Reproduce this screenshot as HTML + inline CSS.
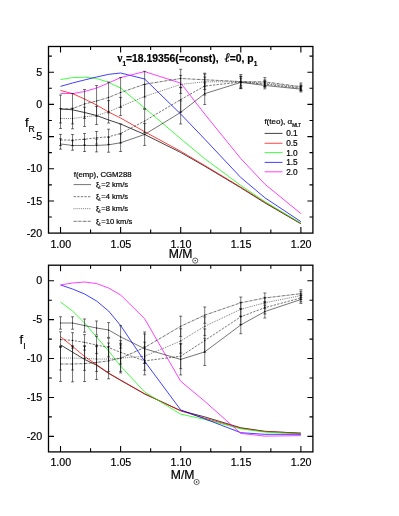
<!DOCTYPE html>
<html><head><meta charset="utf-8"><title>f_R, f_I vs M</title>
<style>
html,body{margin:0;padding:0;background:#fff;}
body{width:399px;height:516px;position:relative;overflow:hidden;font-family:"Liberation Sans",sans-serif;color:#000;}
</style></head><body>
<svg width="399" height="516" viewBox="0 0 399 516" style="position:absolute;left:0;top:0;will-change:transform">
<clipPath id="c1"><rect x="48.5" y="46.5" width="264.4" height="186.6"/></clipPath>
<clipPath id="c2"><rect x="48.5" y="265.2" width="264.4" height="186.7"/></clipPath>
<g clip-path="url(#c1)">
<polyline points="60.52,108.98 72.54,109.82 84.55,112.52 96.57,115.48 108.59,119.98 120.61,123.97 144.65,134.46 180.7,152.48 204.74,166.18 240.79,187.74 264.83,202.86 300.88,223.77" fill="none" stroke="#000" stroke-width="0.75"/>
<polyline points="60.52,90.51 72.54,93.6 84.55,99.01 96.57,104.99 108.59,112 120.61,117.99 144.65,131.76 180.7,151.25 204.74,165.47 240.79,187.16 264.83,202.21 300.88,223.45" fill="none" stroke="#ff0000" stroke-width="0.75"/>
<polyline points="60.52,79.57 72.54,77.58 84.55,77.19 96.57,78.42 108.59,82.4 120.61,88 144.65,108.01 180.7,138.71 204.74,158.72 240.79,185.48 264.83,201.57 300.88,223.13" fill="none" stroke="#00ff00" stroke-width="0.75"/>
<polyline points="60.52,86.39 72.54,82.98 84.55,79.96 96.57,77 108.59,74.36 120.61,73.01 144.65,78.99 180.7,114.06 204.74,139.16 240.79,177.51 264.83,197.71 300.88,221.65" fill="none" stroke="#0000ff" stroke-width="0.75"/>
<polyline points="60.52,93.47 72.54,93.6 84.55,91.54 96.57,88 108.59,82.98 120.61,77.58 144.65,71.59 180.7,83.11 204.74,114.06 240.79,158.59 264.83,184.13 300.88,213.6" fill="none" stroke="#ff00ff" stroke-width="0.75"/>
<polyline points="60.52,143.98 72.54,145.46 84.55,145.46 96.57,145.46 108.59,144.82 120.61,142.76 144.65,134.46 180.7,112.39 204.74,93.66 240.79,82.4 264.83,85.43 300.88,89.16" fill="none" stroke="#000" stroke-width="0.55"/>
<polyline points="60.52,139.99 72.54,140.12 84.55,139.22 96.57,137.81 108.59,136.78 120.61,133.49 144.65,121.01 180.7,99.58 204.74,86.01 240.79,82.08 264.83,84.14 300.88,88.32" fill="none" stroke="#000" stroke-width="0.55" stroke-dasharray="2.3 1.3"/>
<polyline points="60.52,118.5 72.54,118.5 84.55,116.83 96.57,115.48 108.59,111.81 120.61,106.47 144.65,96.5 180.7,84.4 204.74,81.76 240.79,81.89 264.83,83.18 300.88,87.49" fill="none" stroke="#000" stroke-width="0.55" stroke-dasharray="0.9 1.0"/>
<polyline points="60.52,108.98 72.54,108.66 84.55,103.96 96.57,101 108.59,97.46 120.61,92.51 144.65,84.21 180.7,78.48 204.74,79.77 240.79,81.57 264.83,81.89 300.88,86.65" fill="none" stroke="#000" stroke-width="0.55" stroke-dasharray="3 0.6 0.5 0.6"/>
<path d="M60.52 138.77V149.19M59.02 138.77H62.02M59.02 149.19H62.02M72.54 140.7V150.22M71.04 140.7H74.04M71.04 150.22H74.04M84.55 139.41V151.51M83.05 139.41H86.05M83.05 151.51H86.05M96.57 139.03V151.9M95.07 139.03H98.07M95.07 151.9H98.07M108.59 137.42V152.22M107.09 137.42H110.09M107.09 152.22H110.09M120.61 134.01V151.51M119.11 134.01H122.11M119.11 151.51H122.11M144.65 123.46V145.46M143.15 123.46H146.15M143.15 145.46H146.15M180.7 100.81V123.97M179.2 100.81H182.2M179.2 123.97H182.2M204.74 82.85V104.47M203.24 82.85H206.24M203.24 104.47H206.24M240.79 76.29V88.52M239.29 76.29H242.29M239.29 88.52H242.29M264.83 81.95V88.9M263.33 81.95H266.33M263.33 88.9H266.33M300.88 86.33V91.99M299.38 86.33H302.38M299.38 91.99H302.38M60.52 134.4V145.59M59.02 134.4H62.02M59.02 145.59H62.02M72.54 134.52V145.72M71.04 134.52H74.04M71.04 145.72H74.04M84.55 133.49V144.95M83.05 133.49H86.05M83.05 144.95H86.05M96.57 131.5V144.11M95.07 131.5H98.07M95.07 144.11H98.07M108.59 129.18V144.37M107.09 129.18H110.09M107.09 144.37H110.09M120.61 123.97V143.02M119.11 123.97H122.11M119.11 143.02H122.11M144.65 109.43V132.59M143.15 109.43H146.15M143.15 132.59H146.15M180.7 87.36V111.81M179.2 87.36H182.2M179.2 111.81H182.2M204.74 77V95.02M203.24 77H206.24M203.24 95.02H206.24M240.79 78.22V85.94M239.29 78.22H242.29M239.29 85.94H242.29M264.83 80.92V87.36M263.33 80.92H266.33M263.33 87.36H266.33M300.88 85.75V90.9M299.38 85.75H302.38M299.38 90.9H302.38M60.52 108.53V128.48M59.02 108.53H62.02M59.02 128.48H62.02M72.54 108.21V128.8M71.04 108.21H74.04M71.04 128.8H74.04M84.55 107.18V126.48M83.05 107.18H86.05M83.05 126.48H86.05M96.57 106.47V124.49M95.07 106.47H98.07M95.07 124.49H98.07M108.59 100.61V123.01M107.09 100.61H110.09M107.09 123.01H110.09M120.61 97.46V115.48M119.11 97.46H122.11M119.11 115.48H122.11M144.65 84.53V108.46M143.15 84.53H146.15M143.15 108.46H146.15M180.7 75.39V93.41M179.2 75.39H182.2M179.2 93.41H182.2M204.74 74.04V89.48M203.24 74.04H206.24M203.24 89.48H206.24M240.79 76.42V87.36M239.29 76.42H242.29M239.29 87.36H242.29M264.83 79.96V86.39M263.33 79.96H266.33M263.33 86.39H266.33M300.88 84.91V90.06M299.38 84.91H302.38M299.38 90.06H302.38M60.52 95.02V122.94M59.02 95.02H62.02M59.02 122.94H62.02M72.54 93.47V123.84M71.04 93.47H74.04M71.04 123.84H74.04M84.55 89.48V118.44M83.05 89.48H86.05M83.05 118.44H86.05M96.57 85.56V116.44M95.07 85.56H98.07M95.07 116.44H98.07M108.59 82.02V112.9M107.09 82.02H110.09M107.09 112.9H110.09M120.61 77.58V107.43M119.11 77.58H122.11M119.11 107.43H122.11M144.65 71.34V97.08M143.15 71.34H146.15M143.15 97.08H146.15M180.7 69.28V87.68M179.2 69.28H182.2M179.2 87.68H182.2M204.74 73.2V86.33M203.24 73.2H206.24M203.24 86.33H206.24M240.79 74.49V88.65M239.29 74.49H242.29M239.29 88.65H242.29M264.83 77.58V86.2M263.33 77.58H266.33M263.33 86.2H266.33M300.88 82.98V90.32M299.38 82.98H302.38M299.38 90.32H302.38" fill="none" stroke="#000" stroke-width="0.55"/>
<g fill="#000"><circle cx="60.52" cy="143.98" r="0.6"/><circle cx="72.54" cy="145.46" r="0.6"/><circle cx="84.55" cy="145.46" r="0.6"/><circle cx="96.57" cy="145.46" r="0.6"/><circle cx="108.59" cy="144.82" r="0.6"/><circle cx="120.61" cy="142.76" r="0.6"/><circle cx="144.65" cy="134.46" r="0.6"/><circle cx="180.7" cy="112.39" r="0.6"/><circle cx="204.74" cy="93.66" r="0.6"/><circle cx="240.79" cy="82.4" r="0.6"/><circle cx="264.83" cy="85.43" r="0.6"/><circle cx="300.88" cy="89.16" r="0.6"/><circle cx="60.52" cy="139.99" r="0.6"/><circle cx="72.54" cy="140.12" r="0.6"/><circle cx="84.55" cy="139.22" r="0.6"/><circle cx="96.57" cy="137.81" r="0.6"/><circle cx="108.59" cy="136.78" r="0.6"/><circle cx="120.61" cy="133.49" r="0.6"/><circle cx="144.65" cy="121.01" r="0.6"/><circle cx="180.7" cy="99.58" r="0.6"/><circle cx="204.74" cy="86.01" r="0.6"/><circle cx="240.79" cy="82.08" r="0.6"/><circle cx="264.83" cy="84.14" r="0.6"/><circle cx="300.88" cy="88.32" r="0.6"/><circle cx="60.52" cy="118.5" r="0.6"/><circle cx="72.54" cy="118.5" r="0.6"/><circle cx="84.55" cy="116.83" r="0.6"/><circle cx="96.57" cy="115.48" r="0.6"/><circle cx="108.59" cy="111.81" r="0.6"/><circle cx="120.61" cy="106.47" r="0.6"/><circle cx="144.65" cy="96.5" r="0.6"/><circle cx="180.7" cy="84.4" r="0.6"/><circle cx="204.74" cy="81.76" r="0.6"/><circle cx="240.79" cy="81.89" r="0.6"/><circle cx="264.83" cy="83.18" r="0.6"/><circle cx="300.88" cy="87.49" r="0.6"/><circle cx="60.52" cy="108.98" r="0.6"/><circle cx="72.54" cy="108.66" r="0.6"/><circle cx="84.55" cy="103.96" r="0.6"/><circle cx="96.57" cy="101" r="0.6"/><circle cx="108.59" cy="97.46" r="0.6"/><circle cx="120.61" cy="92.51" r="0.6"/><circle cx="144.65" cy="84.21" r="0.6"/><circle cx="180.7" cy="78.48" r="0.6"/><circle cx="204.74" cy="79.77" r="0.6"/><circle cx="240.79" cy="81.57" r="0.6"/><circle cx="264.83" cy="81.89" r="0.6"/><circle cx="300.88" cy="86.65" r="0.6"/></g>
</g>
<rect x="48.5" y="46.5" width="264.4" height="186.6" fill="none" stroke="#000" stroke-width="1.3"/>
<path d="M60.52 233.1v-6M60.52 46.5v6M90.56 233.1v-3.6M90.56 46.5v3.6M120.61 233.1v-6M120.61 46.5v6M150.65 233.1v-3.6M150.65 46.5v3.6M180.7 233.1v-6M180.7 46.5v6M210.75 233.1v-3.6M210.75 46.5v3.6M240.79 233.1v-6M240.79 46.5v6M270.84 233.1v-3.6M270.84 46.5v3.6M300.88 233.1v-6M300.88 46.5v6M48.5 72.24h5.5M312.9 72.24h-5.5M48.5 104.41h5.5M312.9 104.41h-5.5M48.5 136.58h5.5M312.9 136.58h-5.5M48.5 168.76h5.5M312.9 168.76h-5.5M48.5 200.93h5.5M312.9 200.93h-5.5M48.5 56.15h3.4M312.9 56.15h-3.4M48.5 88.32h3.4M312.9 88.32h-3.4M48.5 120.5h3.4M312.9 120.5h-3.4M48.5 152.67h3.4M312.9 152.67h-3.4M48.5 184.84h3.4M312.9 184.84h-3.4M48.5 217.01h3.4M312.9 217.01h-3.4" fill="none" stroke="#000" stroke-width="1.1"/>
<g clip-path="url(#c2)">
<polyline points="60.52,344.86 72.54,352.17 84.55,359.41 96.57,365.16 108.59,373.33 120.61,380.33 144.65,393.95 180.7,410.67 204.74,416.89 240.79,427.78 264.83,431.29 300.88,433.23" fill="none" stroke="#000" stroke-width="0.75"/>
<polyline points="60.52,336.61 72.54,346.34 84.55,356.53 96.57,364.54 108.59,373.02 120.61,380.02 144.65,393.79 180.7,410.83 204.74,418.22 240.79,428.17 264.83,431.6 300.88,433.15" fill="none" stroke="#ff0000" stroke-width="0.75"/>
<polyline points="60.52,302 72.54,311.02 84.55,323 96.57,337 108.59,351 120.61,366.1 144.65,392 180.7,414.17 204.74,419.38 240.79,428.87 264.83,432.06 300.88,433.93" fill="none" stroke="#00ff00" stroke-width="0.75"/>
<polyline points="60.52,284.96 72.54,289 84.55,293.98 96.57,300.98 108.59,311.02 120.61,325.49 144.65,361.27 180.7,409.89 204.74,418.84 240.79,432.69 264.83,434.32 300.88,434.32" fill="none" stroke="#0000ff" stroke-width="0.75"/>
<polyline points="60.52,284.96 72.54,283.01 84.55,282 96.57,283.56 108.59,287.99 120.61,294.99 144.65,318.72 180.7,381.27 204.74,401.26 240.79,433.39 264.83,436.11 300.88,435.64" fill="none" stroke="#ff00ff" stroke-width="0.75"/>
<polyline points="60.52,323 72.54,323 84.55,325.57 96.57,327.98 108.59,330 120.61,336.85 144.65,348.75 180.7,359.41 204.74,351.86 240.79,324.94 264.83,311.56 300.88,299.51" fill="none" stroke="#000" stroke-width="0.55"/>
<polyline points="60.52,339.57 72.54,340.42 84.55,342.37 96.57,345.01 108.59,347.58 120.61,352.33 144.65,360.88 180.7,356.22 204.74,340.58 240.79,316.78 264.83,307.67 300.88,297.95" fill="none" stroke="#000" stroke-width="0.55" stroke-dasharray="2.3 1.3"/>
<polyline points="60.52,358.01 72.54,358.01 84.55,358.39 96.57,359.02 108.59,359.02 120.61,358.16 144.65,356.22 180.7,340.97 204.74,326.27 240.79,309.31 264.83,302.77 300.88,295.62" fill="none" stroke="#000" stroke-width="0.55" stroke-dasharray="0.9 1.0"/>
<polyline points="60.52,364 72.54,364 84.55,363.61 96.57,362.44 108.59,360.88 120.61,358.16 144.65,347.5 180.7,326.27 204.74,315.14 240.79,302.77 264.83,297.95 300.88,293.67" fill="none" stroke="#000" stroke-width="0.55" stroke-dasharray="3 0.6 0.5 0.6"/>
<path d="M60.52 316.78V329.22M59.02 316.78H62.02M59.02 329.22H62.02M72.54 316.78V329.22M71.04 316.78H74.04M71.04 329.22H74.04M84.55 318.95V332.18M83.05 318.95H86.05M83.05 332.18H86.05M96.57 320.98V334.98M95.07 320.98H98.07M95.07 334.98H98.07M108.59 322.61V337.39M107.09 322.61H110.09M107.09 337.39H110.09M120.61 325.64V348.05M119.11 325.64H122.11M119.11 348.05H122.11M144.65 333.97V363.53M143.15 333.97H146.15M143.15 363.53H146.15M180.7 343.85V374.96M179.2 343.85H182.2M179.2 374.96H182.2M204.74 338.25V365.47M203.24 338.25H206.24M203.24 365.47H206.24M240.79 316.15V333.73M239.29 316.15H242.29M239.29 333.73H242.29M264.83 305.11V318.02M263.33 305.11H266.33M263.33 318.02H266.33M300.88 295.62V303.4M299.38 295.62H302.38M299.38 303.4H302.38M60.52 331.79V347.35M59.02 331.79H62.02M59.02 347.35H62.02M72.54 332.65V348.2M71.04 332.65H74.04M71.04 348.2H74.04M84.55 334.59V350.15M83.05 334.59H86.05M83.05 350.15H86.05M96.57 336.46V353.57M95.07 336.46H98.07M95.07 353.57H98.07M108.59 338.25V356.92M107.09 338.25H110.09M107.09 356.92H110.09M120.61 340.66V364M119.11 340.66H122.11M119.11 364H122.11M144.65 346.88V374.89M143.15 346.88H146.15M143.15 374.89H146.15M180.7 343.77V368.66M179.2 343.77H182.2M179.2 368.66H182.2M204.74 328.91V352.25M203.24 328.91H206.24M203.24 352.25H206.24M240.79 309V324.56M239.29 309H242.29M239.29 324.56H242.29M264.83 301.45V313.9M263.33 301.45H266.33M263.33 313.9H266.33M300.88 294.06V301.84M299.38 294.06H302.38M299.38 301.84H302.38M60.52 346.03V369.99M59.02 346.03H62.02M59.02 369.99H62.02M72.54 346.03V369.99M71.04 346.03H74.04M71.04 369.99H74.04M84.55 346.41V370.37M83.05 346.41H86.05M83.05 370.37H86.05M96.57 346.57V371.46M95.07 346.57H98.07M95.07 371.46H98.07M108.59 346.57V371.46M107.09 346.57H110.09M107.09 371.46H110.09M120.61 344.94V371.39M119.11 344.94H122.11M119.11 371.39H122.11M144.65 342.21V370.22M143.15 342.21H146.15M143.15 370.22H146.15M180.7 328.76V353.18M179.2 328.76H182.2M179.2 353.18H182.2M204.74 316.93V335.6M203.24 316.93H206.24M203.24 335.6H206.24M240.79 302.31V316.31M239.29 302.31H242.29M239.29 316.31H242.29M264.83 297.33V308.22M263.33 297.33H266.33M263.33 308.22H266.33M300.88 291.73V299.51M299.38 291.73H302.38M299.38 299.51H302.38M60.52 346.57V381.42M59.02 346.57H62.02M59.02 381.42H62.02M72.54 346.1V381.89M71.04 346.1H74.04M71.04 381.89H74.04M84.55 345.71V381.5M83.05 345.71H86.05M83.05 381.5H86.05M96.57 345.33V379.55M95.07 345.33H98.07M95.07 379.55H98.07M108.59 342.99V378.78M107.09 342.99H110.09M107.09 378.78H110.09M120.61 343.38V372.94M119.11 343.38H122.11M119.11 372.94H122.11M144.65 331.95V363.06M143.15 331.95H146.15M143.15 363.06H146.15M180.7 316.15V336.38M179.2 316.15H182.2M179.2 336.38H182.2M204.74 306.97V323.31M203.24 306.97H206.24M203.24 323.31H206.24M240.79 297.02V308.53M239.29 297.02H242.29M239.29 308.53H242.29M264.83 292.97V302.93M263.33 292.97H266.33M263.33 302.93H266.33M300.88 289.78V297.56M299.38 289.78H302.38M299.38 297.56H302.38" fill="none" stroke="#000" stroke-width="0.55"/>
<g fill="#000"><circle cx="60.52" cy="323" r="0.6"/><circle cx="72.54" cy="323" r="0.6"/><circle cx="84.55" cy="325.57" r="0.6"/><circle cx="96.57" cy="327.98" r="0.6"/><circle cx="108.59" cy="330" r="0.6"/><circle cx="120.61" cy="336.85" r="0.6"/><circle cx="144.65" cy="348.75" r="0.6"/><circle cx="180.7" cy="359.41" r="0.6"/><circle cx="204.74" cy="351.86" r="0.6"/><circle cx="240.79" cy="324.94" r="0.6"/><circle cx="264.83" cy="311.56" r="0.6"/><circle cx="300.88" cy="299.51" r="0.6"/><circle cx="60.52" cy="339.57" r="0.6"/><circle cx="72.54" cy="340.42" r="0.6"/><circle cx="84.55" cy="342.37" r="0.6"/><circle cx="96.57" cy="345.01" r="0.6"/><circle cx="108.59" cy="347.58" r="0.6"/><circle cx="120.61" cy="352.33" r="0.6"/><circle cx="144.65" cy="360.88" r="0.6"/><circle cx="180.7" cy="356.22" r="0.6"/><circle cx="204.74" cy="340.58" r="0.6"/><circle cx="240.79" cy="316.78" r="0.6"/><circle cx="264.83" cy="307.67" r="0.6"/><circle cx="300.88" cy="297.95" r="0.6"/><circle cx="60.52" cy="358.01" r="0.6"/><circle cx="72.54" cy="358.01" r="0.6"/><circle cx="84.55" cy="358.39" r="0.6"/><circle cx="96.57" cy="359.02" r="0.6"/><circle cx="108.59" cy="359.02" r="0.6"/><circle cx="120.61" cy="358.16" r="0.6"/><circle cx="144.65" cy="356.22" r="0.6"/><circle cx="180.7" cy="340.97" r="0.6"/><circle cx="204.74" cy="326.27" r="0.6"/><circle cx="240.79" cy="309.31" r="0.6"/><circle cx="264.83" cy="302.77" r="0.6"/><circle cx="300.88" cy="295.62" r="0.6"/><circle cx="60.52" cy="364" r="0.6"/><circle cx="72.54" cy="364" r="0.6"/><circle cx="84.55" cy="363.61" r="0.6"/><circle cx="96.57" cy="362.44" r="0.6"/><circle cx="108.59" cy="360.88" r="0.6"/><circle cx="120.61" cy="358.16" r="0.6"/><circle cx="144.65" cy="347.5" r="0.6"/><circle cx="180.7" cy="326.27" r="0.6"/><circle cx="204.74" cy="315.14" r="0.6"/><circle cx="240.79" cy="302.77" r="0.6"/><circle cx="264.83" cy="297.95" r="0.6"/><circle cx="300.88" cy="293.67" r="0.6"/></g>
</g>
<rect x="48.5" y="265.2" width="264.4" height="186.7" fill="none" stroke="#000" stroke-width="1.3"/>
<path d="M60.52 451.9v-6M60.52 265.2v6M90.56 451.9v-3.6M90.56 265.2v3.6M120.61 451.9v-6M120.61 265.2v6M150.65 451.9v-3.6M150.65 265.2v3.6M180.7 451.9v-6M180.7 265.2v6M210.75 451.9v-3.6M210.75 265.2v3.6M240.79 451.9v-6M240.79 265.2v6M270.84 451.9v-3.6M270.84 265.2v3.6M300.88 451.9v-6M300.88 265.2v6M48.5 280.76h5.5M312.9 280.76h-5.5M48.5 319.65h5.5M312.9 319.65h-5.5M48.5 358.55h5.5M312.9 358.55h-5.5M48.5 397.45h5.5M312.9 397.45h-5.5M48.5 436.34h5.5M312.9 436.34h-5.5M48.5 300.21h3.4M312.9 300.21h-3.4M48.5 339.1h3.4M312.9 339.1h-3.4M48.5 378h3.4M312.9 378h-3.4M48.5 416.89h3.4M312.9 416.89h-3.4" fill="none" stroke="#000" stroke-width="1.1"/>
<line x1="264.6" y1="133.4" x2="282.5" y2="133.4" stroke="#000" stroke-width="0.75"/>
<line x1="264.6" y1="143.25" x2="282.5" y2="143.25" stroke="#ff0000" stroke-width="0.75"/>
<line x1="264.6" y1="152.6" x2="282.5" y2="152.6" stroke="#00ff00" stroke-width="0.75"/>
<line x1="264.6" y1="162.4" x2="282.5" y2="162.4" stroke="#0000ff" stroke-width="0.75"/>
<line x1="264.6" y1="171.8" x2="282.5" y2="171.8" stroke="#ff00ff" stroke-width="0.75"/>
<line x1="73.6" y1="184.6" x2="91" y2="184.6" stroke="#000" stroke-width="0.55"/>
<line x1="73.6" y1="196.7" x2="91" y2="196.7" stroke="#000" stroke-width="0.55" stroke-dasharray="2.3 1.3"/>
<line x1="73.6" y1="208.7" x2="91" y2="208.7" stroke="#000" stroke-width="0.55" stroke-dasharray="0.9 1.0"/>
<line x1="73.6" y1="221.3" x2="91" y2="221.3" stroke="#000" stroke-width="0.55" stroke-dasharray="3 0.6 0.5 0.6"/>
<circle cx="195.2" cy="260.6" r="2.6" fill="none" stroke="#000" stroke-width="0.6"/><circle cx="195.2" cy="260.6" r="0.7" fill="#000"/>
<circle cx="196.6" cy="482.0" r="2.6" fill="none" stroke="#000" stroke-width="0.6"/><circle cx="196.6" cy="482.0" r="0.7" fill="#000"/>
<g font-family="Liberation Sans, sans-serif" fill="#000" stroke="#000" stroke-width="0.2">
<text x="60.82" y="247.6" font-size="10.7" text-anchor="middle">1.00</text>
<text x="60.82" y="465.8" font-size="10.7" text-anchor="middle">1.00</text>
<text x="120.91" y="247.6" font-size="10.7" text-anchor="middle">1.05</text>
<text x="120.91" y="465.8" font-size="10.7" text-anchor="middle">1.05</text>
<text x="181" y="247.6" font-size="10.7" text-anchor="middle">1.10</text>
<text x="181" y="465.8" font-size="10.7" text-anchor="middle">1.10</text>
<text x="241.09" y="247.6" font-size="10.7" text-anchor="middle">1.15</text>
<text x="241.09" y="465.8" font-size="10.7" text-anchor="middle">1.15</text>
<text x="301.18" y="247.6" font-size="10.7" text-anchor="middle">1.20</text>
<text x="301.18" y="465.8" font-size="10.7" text-anchor="middle">1.20</text>
<text x="42.1" y="75.94" font-size="10.7" text-anchor="end">5</text>
<text x="42.1" y="108.11" font-size="10.7" text-anchor="end">0</text>
<text x="42.1" y="140.28" font-size="10.7" text-anchor="end">-5</text>
<text x="42.1" y="172.46" font-size="10.7" text-anchor="end">-10</text>
<text x="42.1" y="204.63" font-size="10.7" text-anchor="end">-15</text>
<text x="42.1" y="236.8" font-size="10.7" text-anchor="end">-20</text>
<text x="42.1" y="284.46" font-size="10.7" text-anchor="end">0</text>
<text x="42.1" y="323.35" font-size="10.7" text-anchor="end">-5</text>
<text x="42.1" y="362.25" font-size="10.7" text-anchor="end">-10</text>
<text x="42.1" y="401.15" font-size="10.7" text-anchor="end">-15</text>
<text x="42.1" y="440.04" font-size="10.7" text-anchor="end">-20</text>
<text x="168.8" y="258.1" font-size="12.2" text-anchor="start">M/M</text>
<text x="170.8" y="479.2" font-size="12.2" text-anchor="start">M/M</text>
<text x="25" y="126.8" font-size="13" text-anchor="start">f</text>
<text x="28.4" y="131.6" font-size="8.6" text-anchor="start">R</text>
<text x="19.4" y="343.8" font-size="13" text-anchor="start">f</text>
<text x="23.3" y="348.6" font-size="8.6" text-anchor="start">I</text>
<text x="117.3" y="61.8" font-size="10.35" text-anchor="start" font-weight="bold"><tspan font-family="Liberation Serif" font-size="11.5">&#957;</tspan><tspan font-size="6.5" dy="4.2">1</tspan><tspan dy="-4.2">&#8203;</tspan>=18.19356(=const),&#160; <tspan font-family="Liberation Serif" font-style="italic" font-weight="normal" font-size="13">&#8467;</tspan>=0, p<tspan font-size="6.5" dy="4.2">1</tspan><tspan dy="-4.2">&#8203;</tspan></text>
<text x="264.4" y="124.4" font-size="8.0" text-anchor="start">f(teo), &#945;<tspan font-size="4.6" dy="2.2">MLT</tspan><tspan dy="-2.2">&#8203;</tspan></text>
<text x="286.2" y="136.4" font-size="8.3" text-anchor="start">0.1</text>
<text x="286.2" y="146.25" font-size="8.3" text-anchor="start">0.5</text>
<text x="286.2" y="155.6" font-size="8.3" text-anchor="start">1.0</text>
<text x="286.2" y="165.4" font-size="8.3" text-anchor="start">1.5</text>
<text x="286.2" y="174.8" font-size="8.3" text-anchor="start">2.0</text>
<text x="73.8" y="176.9" font-size="7.75" text-anchor="start">f(emp), CGM288</text>
<text x="96" y="187.3" font-size="7.6" text-anchor="start"><tspan font-size="7">&#958;</tspan><tspan font-size="4.6" dy="2.0">t</tspan><tspan dy="-2.0">&#8203;</tspan></text>
<text x="101.3" y="187.3" font-size="7.6" text-anchor="start">=2 km/s</text>
<text x="96" y="199.4" font-size="7.6" text-anchor="start"><tspan font-size="7">&#958;</tspan><tspan font-size="4.6" dy="2.0">t</tspan><tspan dy="-2.0">&#8203;</tspan></text>
<text x="101.3" y="199.4" font-size="7.6" text-anchor="start">=4 km/s</text>
<text x="96" y="211.4" font-size="7.6" text-anchor="start"><tspan font-size="7">&#958;</tspan><tspan font-size="4.6" dy="2.0">t</tspan><tspan dy="-2.0">&#8203;</tspan></text>
<text x="101.3" y="211.4" font-size="7.6" text-anchor="start">=8 km/s</text>
<text x="96" y="224" font-size="7.6" text-anchor="start"><tspan font-size="7">&#958;</tspan><tspan font-size="4.6" dy="2.0">t</tspan><tspan dy="-2.0">&#8203;</tspan></text>
<text x="101.3" y="224" font-size="7.6" text-anchor="start">=10 km/s</text>
</g>
</svg>
</body></html>
